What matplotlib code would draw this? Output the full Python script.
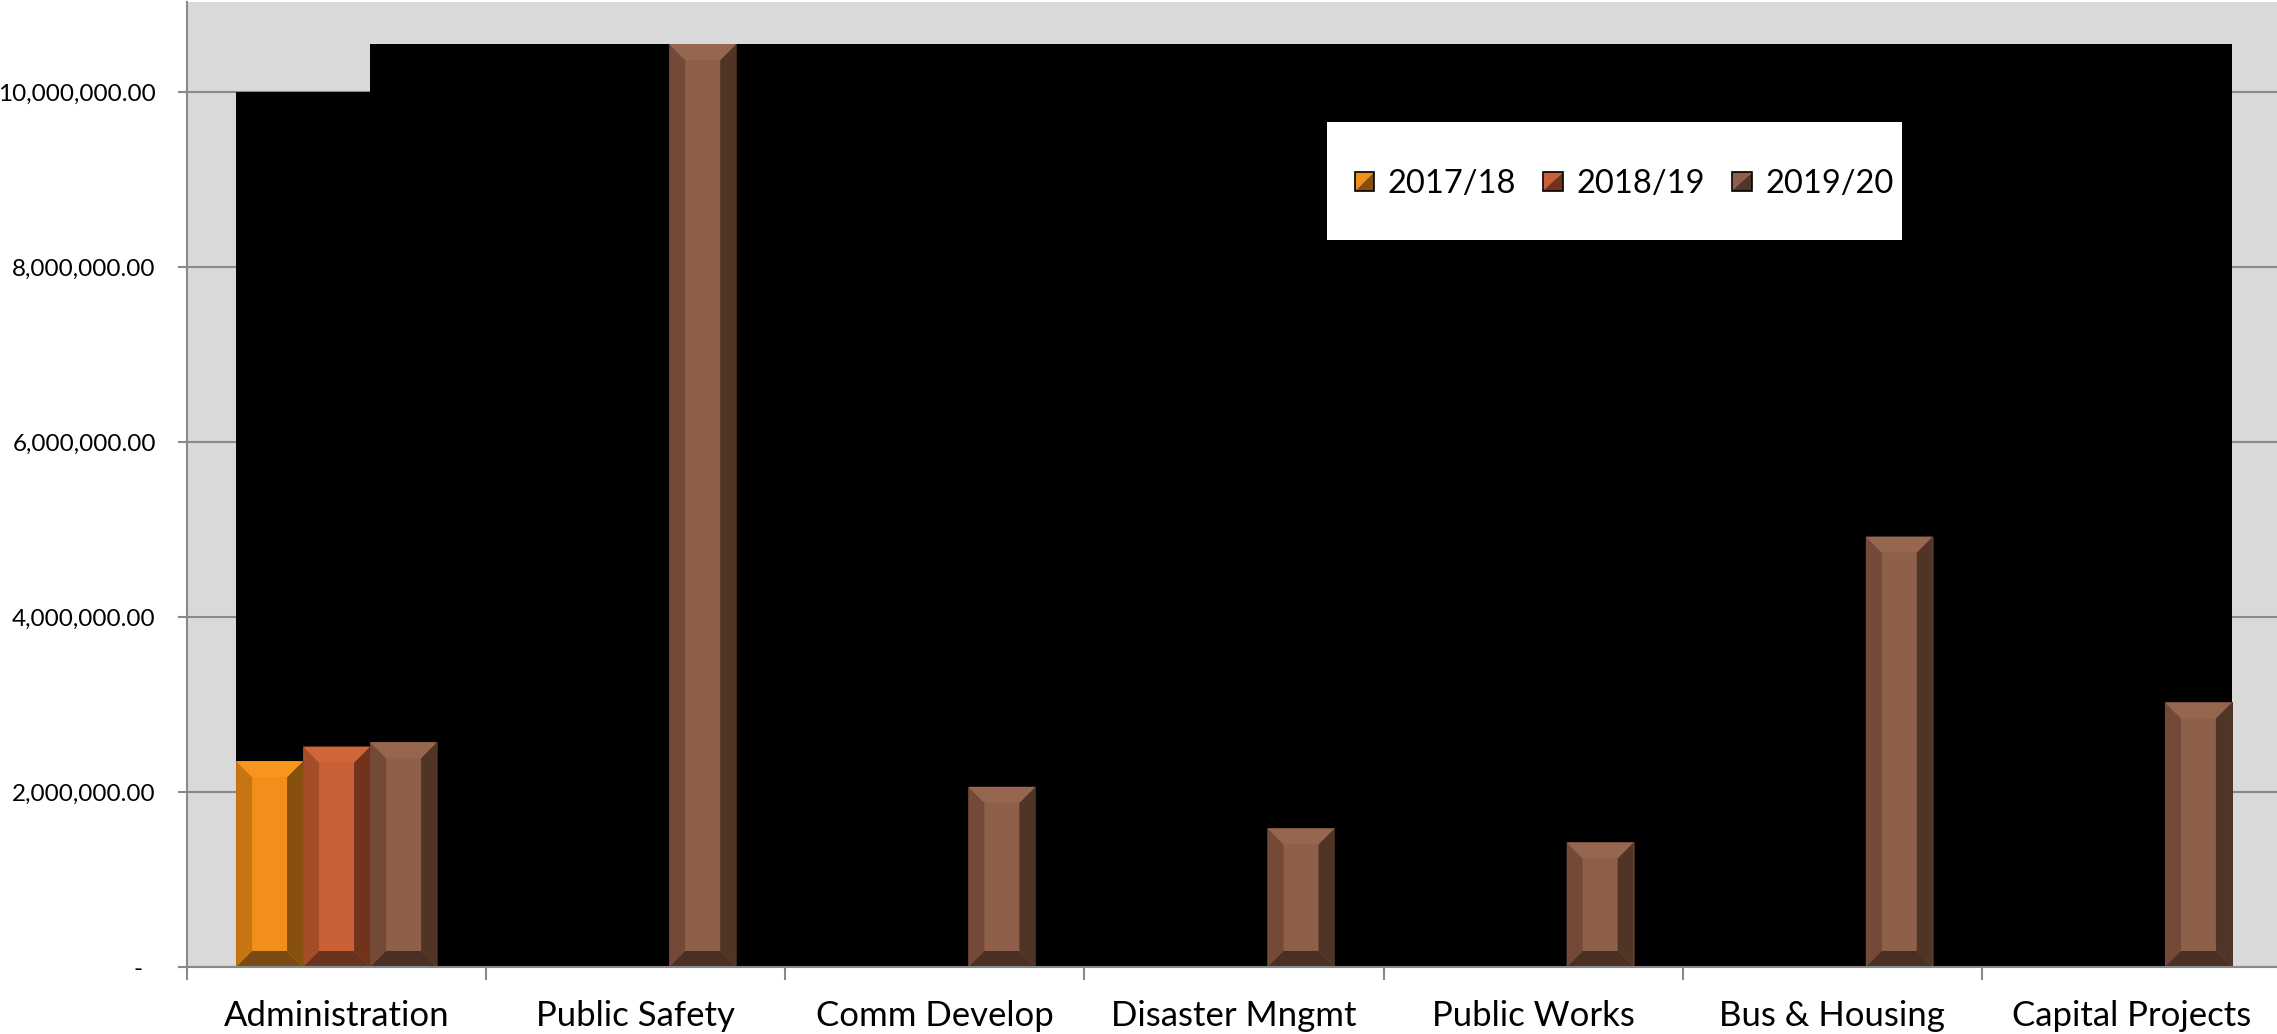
import matplotlib
matplotlib.use("Agg")
import matplotlib.pyplot as plt
import numpy as np
from matplotlib.legend_handler import HandlerBase
from matplotlib.patches import Patch, Polygon
from matplotlib.ticker import FuncFormatter

# data
categories = ["Administration", "Public Safety", "Comm Develop", "Disaster Mngmt",
              "Public Works", "Bus & Housing", "Capital Projects"]
series_names = ["2017/18", "2018/19", "2019/20"]
fy_2017_18 = [2354000, 0, 0, 0, 0, 0, 0]
fy_2018_19 = [2520000, 0, 0, 0, 0, 0, 0]
fy_2019_20 = [2570000, 10550000, 2060000, 1585000, 1425000, 4920000, 3025000]
y_ticks = [0, 2000000, 4000000, 6000000, 8000000, 10000000]

# colours: face, left bevel, right bevel, top bevel, bottom bevel
shades = [
    ("#f28e1a", "#c77512", "#87500c", "#f7951c", "#7a4c14"),
    ("#ca6036", "#a54c28", "#73321c", "#d1653a", "#69341f"),
    ("#8e604a", "#744937", "#503426", "#96664f", "#4a3024"),
]

plt.rcParams["font.family"] = ["Lato", "DejaVu Sans"]

W, H = 2277, 1034
fig = plt.figure(figsize=(W / 100, H / 100), dpi=100)
fig.patch.set_facecolor("white")
ax = fig.add_axes([187 / W, 67 / H, 2094 / W, 965 / H])
ax.set_facecolor("#d9d9d9")

x = np.arange(len(categories))
bw = 67 / 299.2
ax.set_xlim(-0.5, len(categories) - 0.5)
ax.set_ylim(0, 11030000)

all_series = [fy_2017_18, fy_2018_19, fy_2019_20]
containers = []
for i, vals in enumerate(all_series):
    c = ax.bar(x + (i - 1) * bw, vals, width=bw, color=shades[i][0],
               edgecolor="#3a2418", linewidth=0.6, zorder=3)
    containers.append(c)

# pixel -> data conversion for bevels
ax_w_px = 2094
ax_h_px = 965
dxp = (ax.get_xlim()[1] - ax.get_xlim()[0]) / ax_w_px
dyp = (ax.get_ylim()[1] - ax.get_ylim()[0]) / ax_h_px
bx, by = 16 * dxp, 16 * dyp

for i, c in enumerate(containers):
    face, left, right, top, bottom = shades[i]
    for p in c.patches:
        h = p.get_height()
        if h <= 0:
            continue
        x0 = p.get_x()
        x1 = x0 + p.get_width()
        polys = [
            ([(x0, 0), (x0 + bx, by), (x0 + bx, h - by), (x0, h)], left),
            ([(x1, 0), (x1 - bx, by), (x1 - bx, h - by), (x1, h)], right),
            ([(x0, h), (x1, h), (x1 - bx, h - by), (x0 + bx, h - by)], top),
            ([(x0, 0), (x1, 0), (x1 - bx, by), (x0 + bx, by)], bottom),
        ]
        for pts, col in polys:
            ax.add_patch(Polygon(pts, closed=True, facecolor=col, edgecolor="none", zorder=3.5))

# black backdrop behind the bars
first = containers[0].patches[0]
admin3 = containers[2].patches[0]
last = containers[2].patches[-1]
ps_top = fy_2019_20[1]
bx0 = first.get_x()
bxs = admin3.get_x()
bx1 = last.get_x() + last.get_width()
ax.fill([bx0, bx0, bxs, bxs, bx1, bx1], [0, y_ticks[-1], y_ticks[-1], ps_top, ps_top, 0],
        color="black", zorder=1.5, linewidth=0)

# axes styling
ax.set_axisbelow(True)
ax.yaxis.grid(True, color="#898989", linewidth=1.5, zorder=0.5)
ax.set_yticks(y_ticks)
ax.yaxis.set_major_formatter(FuncFormatter(lambda v, p: "-  " if v == 0 else f"{v:,.2f}"))
ax.tick_params(axis="y", length=6.5, width=1.5, color="#898989", pad=16, labelsize=17.5)
ax.set_xticks(x)
ax.set_xticklabels(categories)
ax.set_xticks(np.arange(-0.5, len(categories), 1.0), minor=True)
ax.tick_params(axis="x", which="major", length=0, pad=24, labelsize=25)
ax.tick_params(axis="x", which="minor", length=9, width=1.5, color="#898989")
for s in ["top", "right"]:
    ax.spines[s].set_visible(False)
for s in ["left", "bottom"]:
    ax.spines[s].set_color("#898989")
    ax.spines[s].set_linewidth(1.5)
    ax.spines[s].set_zorder(4)


# legend with split-colour square markers
class SplitHandler(HandlerBase):
    def __init__(self, light, dark):
        super().__init__()
        self.light, self.dark = light, dark

    def create_artists(self, legend, orig_handle, xdescent, ydescent, width, height, fontsize, trans):
        s = min(width, height)
        x0 = -xdescent + (width - s) / 2
        y0 = -ydescent + (height - s) / 2
        t1 = Polygon([(x0, y0 + s), (x0 + s, y0 + s), (x0, y0)], closed=True,
                     facecolor=self.light, edgecolor="none", transform=trans)
        t2 = Polygon([(x0 + s, y0 + s), (x0 + s, y0), (x0, y0)], closed=True,
                     facecolor=self.dark, edgecolor="none", transform=trans)
        box = Polygon([(x0, y0), (x0 + s, y0), (x0 + s, y0 + s), (x0, y0 + s)], closed=True,
                      facecolor="none", edgecolor="black", linewidth=1.2, transform=trans)
        return [t1, t2, box]


fig.patches.append(plt.Rectangle((1327 / W, 1 - 240 / H), 575 / W, 118 / H,
                                 transform=fig.transFigure, facecolor="white",
                                 edgecolor="none", zorder=5))
handles = [Patch(facecolor=sh[0]) for sh in shades]
hmap = {h: SplitHandler(sh[0], sh[2]) for h, sh in zip(handles, shades)}
leg = fig.legend(handles, series_names, loc="center", bbox_to_anchor=(1624 / W, 1 - 184 / H),
                 ncol=3, frameon=False, fontsize=23.5, handlelength=0.6, handleheight=0.6,
                 handletextpad=0.4, columnspacing=0.85, handler_map=hmap)
leg.set_zorder(6)

fig.savefig("out.png", dpi=100, facecolor="white")
